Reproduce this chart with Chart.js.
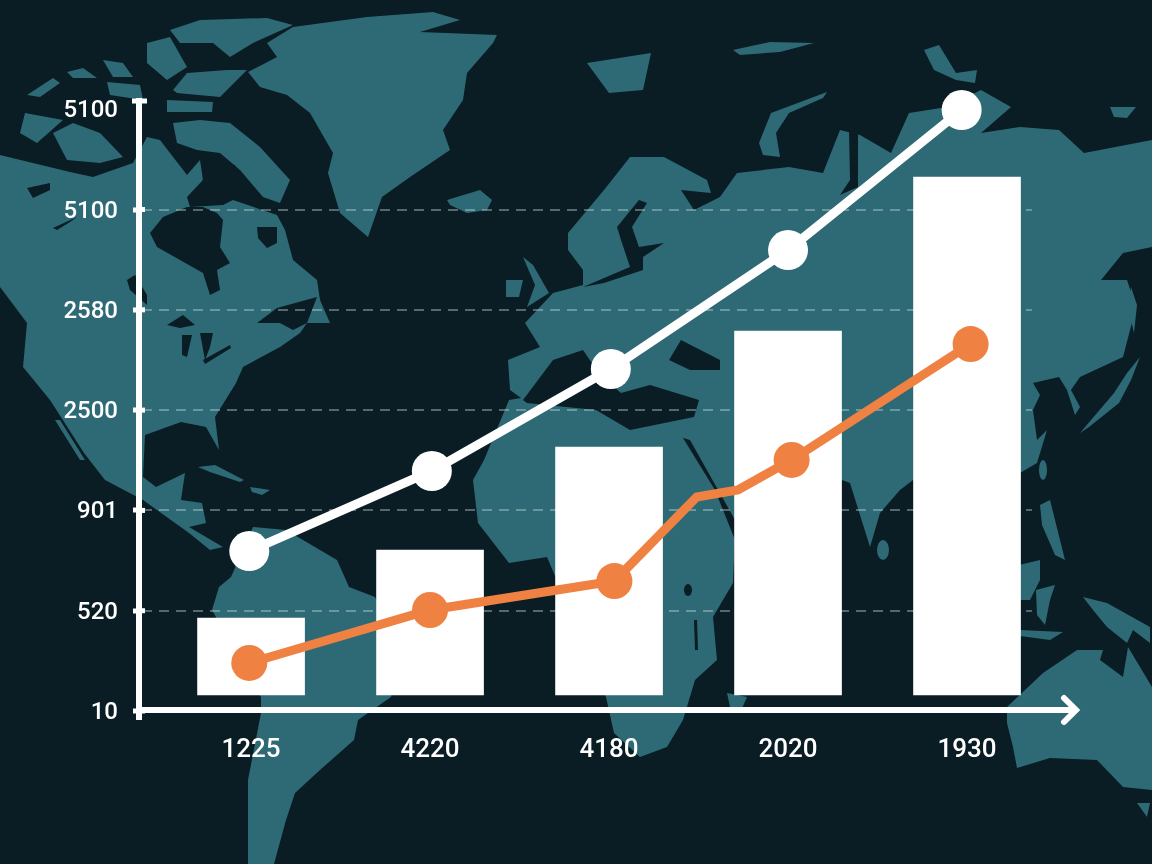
<!DOCTYPE html>
<html>
<head>
<meta charset="utf-8">
<script src="https://cdn.jsdelivr.net/npm/chart.js@4"></script>
<style>
body { margin: 0; background: #0a1c24; }
#wrap { position: relative; width: 1152px; height: 864px; overflow: hidden; }
#map, #chart { position: absolute; left: 0; top: 0; }
</style>
</head>
<body>
<div id="wrap">
<!-- hand traced world map behind the chart -->
<svg id="map" width="1152" height="864" viewBox="0 0 1152 864">
  <g fill="#2e6a75">
    <!-- north america -->
    <path d="M0,155 L70,172 L93,177 L133,163 L147,137 L160,140 L187,175 L200,160 L203,180 L187,197 L190,207 L223,205 L233,200 L277,215 L285,230 L293,260 L317,280 L320,300 L330,323 L307,323 L300,333 L280,347 L243,367 L236,383 L215,417 L219,450 L206,427 L181,422 L145,435 L143,477 L156,487 L185,473 L181,500 L202,503 L206,523 L189,527 L223,547 L210,550 L189,533 L143,500 L105,480 L84,453 L50,400 L23,367 L27,323 L0,287 Z"/>
    <path d="M55,420 L60,420 L85,460 L80,460 Z"/>
    <path d="M198,467 L215,465 L244,480 L240,482 L210,472 Z"/>
    <path d="M250,487 L270,490 L262,495 L252,492 Z"/>
    <!-- arctic islands -->
    <path d="M170,30 L200,20 L267,18 L293,25 L253,43 L230,57 L213,43 L180,43 Z"/>
    <path d="M147,43 L170,37 L187,67 L167,80 L147,63 Z"/>
    <path d="M167,100 L213,102 L212,112 L167,112 Z"/>
    <path d="M173,90 L187,73 L227,70 L247,70 L220,97 L177,93 Z"/>
    <path d="M173,123 L200,120 L230,123 L260,147 L290,180 L280,203 L263,197 L240,170 L220,153 L197,150 L177,143 Z"/>
    <path d="M27,95 L53,78 L60,83 L40,97 Z"/>
    <path d="M103,60 L123,63 L133,77 L113,77 Z"/>
    <path d="M67,72 L83,68 L97,78 L73,78 Z"/>
    <path d="M107,82 L140,85 L143,100 L110,95 Z"/>
    <path d="M25,113 L63,120 L37,143 L20,133 Z"/>
    <path d="M53,133 L73,123 L100,133 L123,157 L100,163 L67,160 Z"/>
    <!-- greenland, iceland -->
    <path d="M293,27 L367,17 L433,12 L460,20 L420,32 L497,35 L493,43 L467,73 L463,100 L443,130 L450,150 L410,177 L382,197 L368,237 L340,213 L328,173 L333,153 L310,113 L287,95 L260,87 L248,72 L277,57 L267,43 Z"/>
    <path d="M447,200 L480,190 L492,200 L487,210 L467,213 L450,205 Z"/>
    <!-- south america -->
    <path d="M212,610 L219,587 L231,577 L253,527 L286,530 L303,540 L337,560 L349,587 L375,597 L400,650 L391,697 L358,720 L354,740 L320,770 L295,793 L286,820 L274,864 L248,864 L248,780 L261,713 L261,697 Z"/>
    <!-- africa and eurasia -->
    <path d="M509,400 L521,398 L510,390 L508,360 L540,347 L525,323 L553,293 L583,285 L583,270 L568,250 L568,233 L604,190 L630,157 L664,157 L707,180 L711,193 L681,190 L694,210 L720,197 L737,173 L789,167 L823,173 L840,130 L860,135 L891,153 L909,113 L947,107 L981,90 L1011,107 L981,133 L1020,127 L1059,130 L1084,153 L1152,140 L1152,247 L1123,253 L1101,280 L1127,280 L1136,307 L1123,357 L1080,377 L1071,390 L1080,407 L1075,415 L1067,390 L1059,377 L1033,383 L1040,395 L1033,410 L1037,440 L1047,430 L1037,463 L1020,473 L1000,500 L913,480 L900,490 L880,513 L870,547 L850,483 L842,480 L800,540 L735,535 L733,583 L713,617 L717,660 L695,680 L683,720 L667,747 L640,757 L614,733 L606,697 L547,557 L509,563 L478,523 L473,480 L484,460 Z"/>
    <path d="M523,257 L533,265 L549,293 L527,307 L535,285 Z"/>
    <path d="M506,280 L523,280 L519,297 L506,297 Z"/>
    <path d="M587,63 L651,53 L643,90 L609,93 Z"/>
    <path d="M733,50 L770,42 L814,43 L780,52 L740,55 Z"/>
    <path d="M759,143 L771,113 L827,92 L823,98 L789,113 L776,133 L780,157 L763,155 Z"/>
    <path d="M924,50 L939,45 L956,73 L977,70 L975,83 L956,80 L934,70 Z"/>
    <path d="M1110,107 L1136,107 L1127,118 L1114,117 Z"/>
    <path d="M1080,433 L1114,393 L1127,373 L1140,357 L1131,380 L1119,403 L1089,427 Z"/>
    <path d="M1131,287 L1137,305 L1134,333 L1128,307 Z"/>
    <ellipse cx="883" cy="550" rx="6" ry="10"/>
    <ellipse cx="1043" cy="470" rx="4" ry="10"/>
    <!-- south east asia, oceania -->
    <path d="M1040,505 L1050,500 L1060,540 L1065,560 L1055,555 L1042,525 Z"/>
    <path d="M1019,565 L1040,560 L1040,580 L1030,600 L1019,600 Z"/>
    <path d="M1036,590 L1055,585 L1050,600 L1045,625 L1037,615 Z"/>
    <path d="M1020,630 L1063,632 L1050,640 L1020,636 Z"/>
    <path d="M1083,597 L1107,603 L1150,627 L1150,643 L1133,630 L1127,643 L1107,627 L1093,610 Z"/>
    <path d="M727,693 L747,697 L740,713 L730,707 Z"/>
    <path d="M1007,707 L1043,673 L1077,650 L1103,650 L1100,660 L1123,677 L1128,647 L1152,687 L1152,790 L1123,787 L1097,760 L1050,758 L1017,768 L1013,747 L1007,723 Z"/>
    <path d="M1137,803 L1150,803 L1147,817 Z"/>
  </g>
  <g fill="#0a1c24">
    <!-- hudson and inland seas -->
    <path d="M150,233 L163,217 L187,207 L203,207 L217,213 L223,220 L220,247 L230,263 L217,270 L220,290 L210,295 L203,273 L180,260 L157,247 Z"/>
    <path d="M207,157 L235,165 L240,185 L215,205 L200,195 Z"/>
    <path d="M257,227 L277,227 L277,243 L267,248 L258,238 Z"/>
    <path d="M257,323 L277,308 L317,297 L307,323 L293,330 L280,323 Z"/>
    <path d="M167,325 L183,315 L195,325 L180,328 Z"/>
    <path d="M182,335 L192,335 L187,357 L182,355 Z"/>
    <path d="M200,333 L213,333 L210,347 L205,360 Z"/>
    <path d="M203,360 L230,345 L231,348 L205,364 Z"/>
    <path d="M27,188 L50,183 L50,190 L33,198 Z"/>
    <path d="M53,228 L77,217 L70,222 L57,230 Z"/>
    <path d="M127,280 L135,275 L147,295 L147,305 L130,290 Z"/>
    <!-- mediterranean, black sea, baltic, red sea -->
    <path d="M523,400 L553,360 L583,350 L600,375 L621,393 L650,385 L699,400 L694,417 L630,430 L596,410 L527,403 Z"/>
    <path d="M669,360 L681,340 L720,360 L720,370 L690,370 Z"/>
    <path d="M583,287 L630,267 L621,240 L617,227 L639,200 L647,203 L632,227 L639,247 L664,243 L643,257 L643,270 L604,283 Z"/>
    <path d="M683,438 L690,440 L735,520 L735,540 L715,490 Z"/>
    <path d="M849,130 L858,130 L858,187 L840,195 L850,180 Z"/>
    <ellipse cx="688" cy="590" rx="4" ry="6"/>
    <path d="M694,620 L697,620 L698,650 L695,650 Z"/>
  </g>
</svg>
<canvas id="chart" width="1152" height="864"></canvas>
</div>
<script>
var categories = ['1225', '4220', '4180', '2020', '1930'];
var yTickLabels = ['10', '520', '901', '2500', '2580', '5100', '5100'];

var barBase = [0.16, 0.16, 0.16, 0.16, 0.16];
var barTop = [0.927, 1.605, 2.632, 3.789, 5.324];

var whiteX = [-0.01, 1.01, 2.01, 3.0, 3.97];
var whiteY = [1.595, 2.393, 3.41, 4.596, 5.992];

var orangeX = [-0.01, 1.0, 2.03, 2.49, 2.72, 3.02, 4.02];
var orangeY = [0.479, 1.007, 1.296, 2.134, 2.203, 2.503, 3.659];

function zip(xs, ys) {
    return xs.map(function (x, i) { return { x: x, y: ys[i] }; });
}

// axis caps, tick stubs and the arrow, chart.js has no option for these
var axisDecor = {
    id: 'axisDecor',
    afterDatasetsDraw: function (chart) {
        var a = chart.chartArea;
        var ctx = chart.ctx;
        ctx.save();
        ctx.strokeStyle = '#ffffff';
        ctx.lineWidth = 6;
        ctx.beginPath();
        ctx.moveTo(a.right, a.bottom);
        ctx.lineTo(1075, a.bottom);
        ctx.stroke();
        ctx.lineCap = 'round';
        ctx.beginPath();
        ctx.moveTo(1064, a.bottom - 12);
        ctx.lineTo(1076, a.bottom);
        ctx.lineTo(1064, a.bottom + 12);
        ctx.stroke();
        ctx.lineCap = 'butt';
        ctx.beginPath();
        ctx.moveTo(a.left, a.top);
        ctx.lineTo(a.left, 720);
        ctx.stroke();
        ctx.lineWidth = 5;
        ctx.beginPath();
        ctx.moveTo(a.left - 7, a.top);
        ctx.lineTo(a.left + 8, a.top);
        ctx.stroke();
        yTickLabels.forEach(function (_, i) {
            if (i === 6) return;
            var py = chart.scales.y.getPixelForValue(i);
            ctx.beginPath();
            ctx.moveTo(a.left, py);
            ctx.lineTo(a.left + 6, py);
            ctx.stroke();
        });
        ctx.restore();
    }
};

new Chart(document.getElementById('chart'), {
    type: 'bar',
    data: {
        datasets: [{
            type: 'line',
            data: zip(whiteX, whiteY),
            borderColor: '#ffffff',
            backgroundColor: '#ffffff',
            borderWidth: 9,
            pointRadius: 20,
            pointBorderWidth: 0,
            tension: 0,
            clip: false,
            order: 2
        }, {
            type: 'line',
            data: zip(orangeX, orangeY),
            borderColor: '#ef8142',
            backgroundColor: '#ef8142',
            borderWidth: 9,
            pointRadius: function (c) { return (c.dataIndex === 3 || c.dataIndex === 4) ? 0 : 18; },
            pointBorderWidth: 0,
            tension: 0,
            clip: false,
            order: 1
        }, {
            type: 'bar',
            data: barTop.map(function (t, i) { return { x: i, y: [barBase[i], t] }; }),
            backgroundColor: '#ffffff',
            barThickness: 107,
            order: 3
        }]
    },
    plugins: [axisDecor],
    options: {
        responsive: false,
        animation: false,
        layout: { autoPadding: false, padding: { top: 101, right: 120, left: 0, bottom: 0 } },
        plugins: { legend: { display: false }, title: { display: false }, tooltip: { enabled: false } },
        scales: {
            x: {
                type: 'linear',
                offset: false,
                min: -0.626,
                max: 4.363,
                afterFit: function (s) { s.height = 154; },
                afterBuildTicks: function (s) {
                    s.ticks = categories.map(function (_, i) { return { value: i }; });
                },
                grid: { display: false, drawTicks: false },
                border: { color: '#ffffff', width: 6 },
                ticks: {
                    padding: 25,
                    autoSkip: false,
                    maxRotation: 0,
                    color: '#ffffff',
                    font: { family: 'Roboto', size: 26, weight: '500' },
                    callback: function (v) { return categories[v]; }
                }
            },
            y: {
                type: 'linear',
                min: 0.01,
                max: 6.082,
                afterFit: function (s) { s.width = 139; },
                afterBuildTicks: function (s) {
                    s.ticks = yTickLabels.map(function (_, i) { return { value: i }; });
                },
                grid: {
                    color: function (c) {
                        return (c.tick.value === 0 || c.tick.value === 6) ? 'rgba(0,0,0,0)' : 'rgba(200,220,220,0.4)';
                    },
                    lineWidth: 2,
                    tickColor: function (c) {
                        return c.tick.value === 6 ? 'rgba(0,0,0,0)' : '#ffffff';
                    },
                    tickLength: 6,
                    tickWidth: 5,
                    tickBorderDash: []
                },
                border: { color: '#ffffff', width: 6, dash: [10, 7] },
                ticks: {
                    padding: 15,
                    labelOffset: 2,
                    autoSkip: false,
                    color: '#ffffff',
                    font: { family: 'Roboto', size: 24, weight: '500' },
                    callback: function (v) { return yTickLabels[v]; }
                }
            }
        }
    }
});
</script>
</body>
</html>
